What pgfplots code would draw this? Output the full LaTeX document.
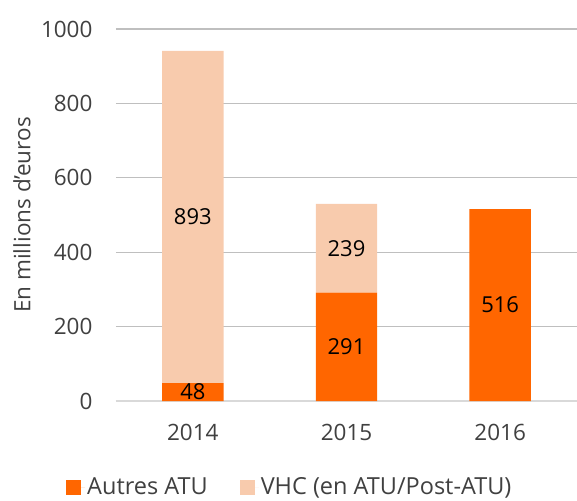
\documentclass[border=0pt]{standalone}
\usepackage{pgfplots}
\pgfplotsset{compat=1.18}
\usepackage{fontspec}
\setmainfont{Open Sans}
\definecolor{dark}{HTML}{FF6600}
\definecolor{light}{HTML}{F8CBAD}
\definecolor{grid}{HTML}{D9D9D9}
\definecolor{txt}{HTML}{404040}
\begin{document}
\begin{tikzpicture}[x=1bp,y=1bp]
\fontsize{22bp}{26bp}\selectfont
\begin{axis}[
  scale only axis,
  width=461bp, height=372bp,
  ybar stacked,
  bar width=0.4,
  xmin=-0.5, xmax=2.5,
  ymin=0, ymax=1000,
  xtick=data,
  xticklabels={2014,2015,2016},
  ytick={0,200,400,600,800,1000},
  axis x line*=bottom,
  axis y line*=left,
  y axis line style={draw=none},
  ymajorgrids, xmajorgrids=false,
  grid style={grid, line width=1.2bp},
  x axis line style={grid, line width=1.2bp, -},
  major tick length=0pt,
  xtick style={draw=none},
  ytick style={draw=none},
  tick label style={font=\fontsize{22.5bp}{26bp}\selectfont, text=txt},
  /pgf/number format/assume math mode=true,
  /pgf/number format/1000 sep={},
  yticklabel style={xshift=-16bp},
  xticklabel style={yshift=-16bp},
  ylabel={En millions d'euros},
  every axis y label/.style={at={(axis description cs:0,0.5)}, anchor=center, xshift=-94bp, rotate=90,
    font=\fontsize{22.5bp}{26bp}\selectfont, text=txt},
  point meta=rawy,
  nodes near coords={\pgfmathfloatifflags{\pgfplotspointmeta}{0}{}{\pgfmathprintnumber{\pgfplotspointmeta}}},
  every node near coord/.append style={font=\fontsize{22bp}{26bp}\selectfont, text=black, anchor=center},
  legend columns=2,
  legend style={at={(0.377,-0.232)}, anchor=center, draw=none, fill=none,
    font=\fontsize{23.5bp}{28bp}\selectfont, text=txt,
    /tikz/every even column/.append style={column sep=30bp}},
  legend image code/.code={\fill[#1] (0bp,-7.5bp) rectangle (15bp,7.5bp); \path (0bp,0bp) -- (19bp,0bp);},
]
\addplot[fill=dark, draw=none] coordinates {(0,48) (1,291) (2,516)};
\addplot[fill=light, draw=none] coordinates {(0,893) (1,239) (2,0)};
\legend{Autres ATU, VHC (en ATU/Post-ATU)}
\end{axis}
\pgfresetboundingbox
\path[use as bounding box] (-116bp,-100bp) rectangle (461bp,401bp);
\end{tikzpicture}
\end{document}
